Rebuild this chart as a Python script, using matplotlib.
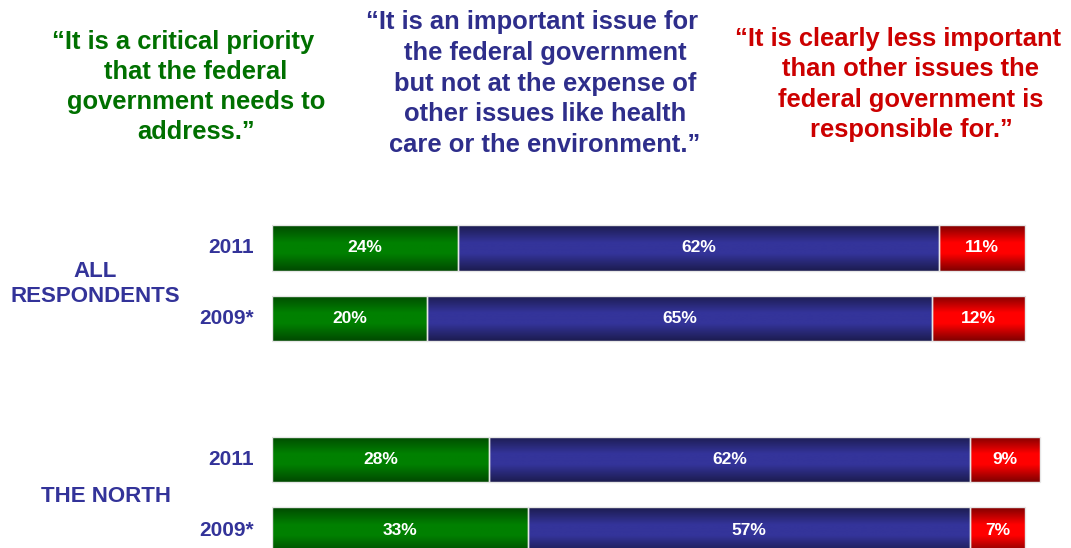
import numpy as np
import matplotlib.pyplot as plt
from matplotlib.colors import LinearSegmentedColormap

plt.rcParams['font.family'] = ['Liberation Sans', 'DejaVu Sans']

# survey data
years = ['2011', '2009*', '2011', '2009*']
groups = ['ALL\nRESPONDENTS', 'THE NORTH']
critical = [24, 20, 28, 33]
important = [62, 65, 62, 57]
less_important = [11, 12, 9, 7]

header_critical = ['\u201cIt is a critical priority', 'that the federal',
                   'government needs to', 'address.\u201d']
header_important = ['\u201cIt is an important issue for', 'the federal government',
                    'but not at the expense of', 'other issues like health',
                    'care or the environment.\u201d']
header_less = ['\u201cIt is clearly less important', 'than other issues the',
               'federal government is', 'responsible for.\u201d']

GREEN = ('#004a00', '#008000')
BLUE = ('#1c1c50', '#34349a')
RED = ('#800000', '#ff0000')
TEXT_BLUE = '#333399'

W, H = 1071, 548
fig = plt.figure(figsize=(W / 100, H / 100), dpi=100)
ax = fig.add_axes([272 / W, 0, (1048 - 272) / W, (548 - 177) / H])

pos = np.array([0, 1, 3, 4])
bar_h = 0.64
ax.set_xlim(0, 100)
ax.axis('off')

grad = np.linspace(0, 1, 64).reshape(-1, 1)


def shaded_bars(left, width, colors):
    dark, base = colors
    cmap = LinearSegmentedColormap.from_list(
        'g', [(0, dark), (0.38, base), (0.62, base), (1, dark)])
    bars = ax.barh(pos, width, left=left, height=bar_h, color=base,
                   edgecolor='white', linewidth=1.2, zorder=2)
    for b in bars:
        x0, y0 = b.get_x(), b.get_y()
        im = ax.imshow(grad, cmap=cmap, aspect='auto', zorder=2.5,
                       extent=(x0, x0 + b.get_width(), y0 + b.get_height(), y0))
        im.set_clip_path(b)
        ax.add_patch(plt.Rectangle((x0, y0), b.get_width(), b.get_height(),
                                   fill=False, edgecolor='#e6e6e6', lw=1, zorder=3))
    for b, v in zip(bars, width):
        ax.text(b.get_x() + b.get_width() / 2, b.get_y() + b.get_height() / 2,
                f'{v}%', ha='center', va='center', color='white',
                fontsize=12.5, fontweight='bold', zorder=4)


crit = np.array(critical)
imp = np.array(important)
shaded_bars(np.zeros(4), crit, GREEN)
shaded_bars(crit, imp, BLUE)
shaded_bars(crit + imp, np.array(less_important), RED)

ax.set_ylim(4.255, -1.007)

for p, y in zip(pos, years):
    ax.text(-2.4, p, y, ha='right', va='center', color=TEXT_BLUE,
            fontsize=15, fontweight='bold', clip_on=False)

fig.text(95 / W, 1 - 284 / H, groups[0], ha='center', va='center',
         color=TEXT_BLUE, fontsize=16, fontweight='bold', linespacing=1.2)
fig.text(106 / W, 1 - 497 / H, groups[1], ha='center', va='center',
         color=TEXT_BLUE, fontsize=16, fontweight='bold')


def header(lines, cx, first_base, step, color):
    # first line hangs to the left because of the opening quote
    for i, line in enumerate(lines):
        x = cx - 13 if i == 0 else cx
        fig.text(x / W, 1 - (first_base + i * step) / H, line, ha='center',
                 va='baseline', color=color, fontsize=18.4, fontweight='bold')


header(header_critical, 196, 49, 30, '#007000')
header(header_important, 545, 29, 30.8, '#2e2e8b')
header(header_less, 911, 46, 30.3, '#cc0000')

fig.savefig('out.png', dpi=100)
